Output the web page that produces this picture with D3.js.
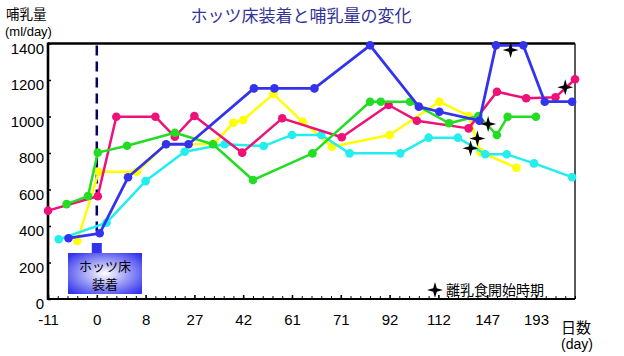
<!DOCTYPE html>
<html><head><meta charset="utf-8">
<script src="https://cdn.jsdelivr.net/npm/d3@7"></script>
<style>
body{margin:0;background:#fff;}
svg{display:block;}
text{font-family:"Liberation Sans",Arial,sans-serif;}
.jp{font-family:"Noto Sans CJK JP","Noto Sans",sans-serif;}
</style></head><body>
<svg id="c" width="624" height="356"></svg>
<script>
// ---- data (x = measurement index along the axis, y = ml/day) ----
const xTickLabels = ["-11","0","8","27","42","61","71","92","112","147","193"];
const yTicks = [0,200,400,600,800,1000,1200,1400];
const yellow = [[3,318],[5.2,697],[9.1,697],[12.1,848],[14.4,848],[17,850],[19,966],[20,981],[23.1,1123],[26.1,971],[29.1,834],[35,899],[40.1,1081],[43.1,1003],[44.3,805],[48,719]];
const cyan = [[1.1,327],[6,418],[10,646],[14,807],[18.1,848],[22.1,838],[25,899],[28,899],[30.9,798],[36.1,798],[39,884],[42,884],[44.8,793],[47,793],[49.8,743],[53.7,668]];
const pink = [[0,484],[5.1,563],[7,999],[11,999],[13,889],[15,1003],[19.9,802],[24,990],[30.1,886],[34.9,1063],[37.8,977],[43.1,935],[46,1136],[49,1100],[52,1105],[54,1204]];
const green = [[1.9,520],[4.1,564],[5.1,802],[8.1,840],[13,911],[16.9,848],[21,652],[27.1,798],[33,1081],[34.1,1081],[37.1,1081],[41.1,963],[44.1,1003],[46,899],[47.1,999],[50,999]];
const blue = [[2.1,333],[5.3,360],[8.2,667],[12.1,848],[14.4,848],[21.1,1154],[23.2,1154],[27.3,1154],[33,1390],[38,1054],[40.1,1026],[44.2,977],[45.9,1390],[48.7,1390],[50.9,1081],[53.7,1081]];
const weaningStars = [[43.3,826],[44,880],[45.1,959],[47.4,1364],[53,1160]];
const fitIndex = 5; // day 0 (ホッツ床装着)

const series = [
  {data: yellow, color:"#ffff00", w:2.5},
  {data: cyan,   color:"#22eeee", w:2.5},
  {data: pink,   color:"#ee1177", w:2.5},
  {data: green,  color:"#22dd22", w:2.5},
  {data: blue,   color:"#3333ee", w:2.8}
];

const svg = d3.select("#c");
const x = d3.scaleLinear().domain([0,54]).range([48,575]);
const y = d3.scaleLinear().domain([0,1400]).range([299,43.5]);

// defs
const defs = svg.append("defs");
const rg = defs.append("radialGradient").attr("id","boxg").attr("cx","50%").attr("cy","50%").attr("r","65%");
rg.append("stop").attr("offset","0%").attr("stop-color","#ffffff");
rg.append("stop").attr("offset","100%").attr("stop-color","#3333ee");

// title
svg.append("text").attr("class","jp").attr("x",301).attr("y",22).attr("text-anchor","middle")
  .attr("font-size",17).attr("fill","#333399").text("ホッツ床装着と哺乳量の変化");
svg.append("text").attr("class","jp").attr("x",6).attr("y",19).attr("font-size",13.5).text("哺乳量");
svg.append("text").attr("x",5).attr("y",36).attr("font-size",13).text("(ml/day)");
svg.append("text").attr("class","jp").attr("x",561).attr("y",333).attr("font-size",15).text("日数");
svg.append("text").attr("x",561).attr("y",349).attr("font-size",14).text("(day)");

// axes
const xAxis = d3.axisBottom(x).tickValues(d3.range(0,55)).tickSizeInner(-3).tickSizeOuter(0).tickPadding(15)
  .tickFormat(i => i%5===0 ? xTickLabels[i/5] : "");
const gx = svg.append("g").attr("transform",`translate(0,${y(0)})`).call(xAxis);
gx.select(".domain").remove();
gx.selectAll(".tick line").attr("stroke","#000").attr("stroke-width",d=>d%5===0?1.6:1).attr("y2",d=>d%5===0?-4:-3);
gx.selectAll(".tick text").attr("font-size",15).attr("fill","#000");

const yAxis = d3.axisLeft(y).tickValues(yTicks).tickFormat(d3.format("d")).tickSizeInner(-3).tickSizeOuter(0).tickPadding(4);
const gy = svg.append("g").attr("transform",`translate(${x(0)},0)`).call(yAxis);
gy.select(".domain").remove();
gy.selectAll(".tick line").attr("stroke","#000").attr("stroke-width",1.5);
gy.selectAll(".tick text").attr("font-size",15).attr("fill","#000").attr("dy","0.66em");

// frame
const fr = svg.append("g").attr("stroke","#000");
fr.append("line").attr("x1",x(0)).attr("x2",x(0)).attr("y1",y(1400)-1).attr("y2",y(0)+1).attr("stroke-width",2.6);
fr.append("line").attr("x1",x(0)).attr("x2",x(54)).attr("y1",y(1400)).attr("y2",y(1400)).attr("stroke-width",2.6);
fr.append("line").attr("x1",x(54)).attr("x2",x(54)).attr("y1",y(1400)).attr("y2",y(0)).attr("stroke-width",1.3);
fr.append("line").attr("x1",x(0)).attr("x2",x(54)).attr("y1",y(0)).attr("y2",y(0)).attr("stroke-width",2);

// dashed fitting line
svg.append("line").attr("x1",x(fitIndex)).attr("x2",x(fitIndex)).attr("y1",y(1400)+2).attr("y2",y(340))
  .attr("stroke","#000066").attr("stroke-width",2.5).attr("stroke-dasharray","10,6");

// series
const line = d3.line().x(d=>x(d[0])).y(d=>y(d[1]));
series.forEach(s=>{
  const g = svg.append("g");
  g.append("path").attr("d",line(s.data)).attr("fill","none").attr("stroke",s.color).attr("stroke-width",s.w).attr("stroke-linejoin","round");
  g.selectAll("circle").data(s.data).join("circle").attr("cx",d=>x(d[0])).attr("cy",d=>y(d[1])).attr("r",4.3).attr("fill",s.color);
});

// star symbol
const star4 = { draw(ctx, size){ const r=Math.sqrt(size), i=r*0.22;
  ctx.moveTo(0,-r); ctx.lineTo(i,-i); ctx.lineTo(r,0); ctx.lineTo(i,i); ctx.lineTo(0,r);
  ctx.lineTo(-i,i); ctx.lineTo(-r,0); ctx.lineTo(-i,-i); ctx.closePath(); } };
const starPath = d3.symbol(star4, 64)();
svg.append("g").selectAll("path").data(weaningStars).join("path")
  .attr("d",starPath).attr("transform",d=>`translate(${x(d[0])},${y(d[1])})`).attr("fill","#000");

// legend
svg.append("path").attr("d",starPath).attr("transform","translate(435,290)").attr("fill","#000");
svg.append("text").attr("class","jp").attr("x",446).attr("y",295).attr("font-size",14).text("離乳食開始時期");

// annotation box
const bx = svg.append("g");
bx.append("rect").attr("x",x(fitIndex)-5).attr("y",243).attr("width",10).attr("height",12).attr("fill","#3333ee");
bx.append("rect").attr("x",68).attr("y",253).attr("width",74).attr("height",41).attr("fill","url(#boxg)");
bx.append("text").attr("class","jp").attr("x",105).attr("y",271).attr("text-anchor","middle").attr("font-size",13).text("ホッツ床");
bx.append("text").attr("class","jp").attr("x",105).attr("y",289).attr("text-anchor","middle").attr("font-size",13).text("装着");
</script></body></html>
